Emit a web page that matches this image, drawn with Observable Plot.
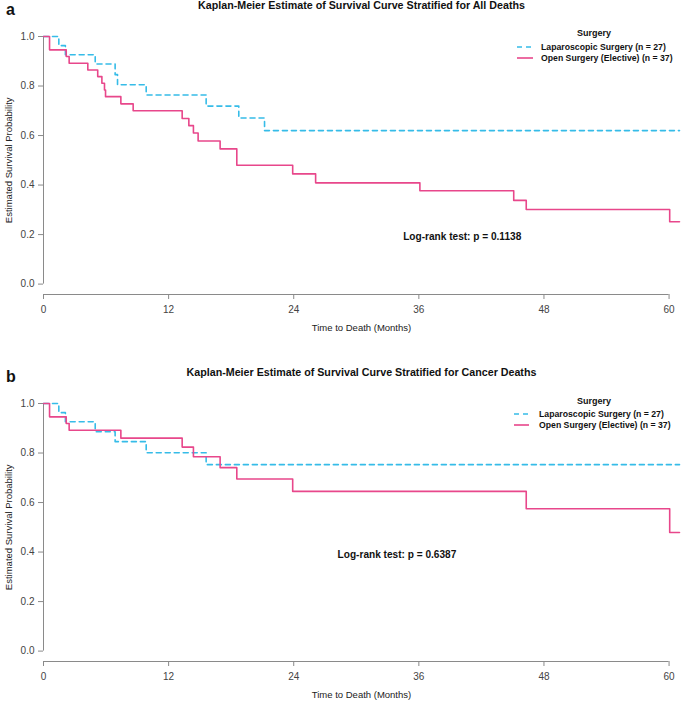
<!DOCTYPE html>
<html><head><meta charset="utf-8">
<script src="https://cdn.jsdelivr.net/npm/d3@7"></script>
<script src="https://cdn.jsdelivr.net/npm/@observablehq/plot@0.6"></script>
<style>
body{margin:0;background:#fff;font-family:"Liberation Sans",Arial,sans-serif;color:#111;}
.panel{position:relative;width:685px;}
.letter{position:absolute;font-weight:bold;font-size:16px;line-height:16px;}
.title{position:absolute;left:43px;width:637px;text-align:center;font-weight:bold;font-size:10.7px;line-height:12px;}
.lgtitle{position:absolute;font-weight:bold;font-size:9px;line-height:10px;width:120px;text-align:center;}
.lgitem{position:absolute;font-weight:bold;font-size:8.7px;line-height:10px;white-space:nowrap;}
.lgline{position:absolute;}
</style></head>
<body>
<div id="root"></div>
<script>
// ---- data ----
const groups = ["Laparoscopic Surgery (n = 27)", "Open Surgery (Elective) (n = 37)"];
const groupColors = ["#36BCE8", "#E8478B"];
const xTicks = [0, 12, 24, 36, 48, 60];
const yTicks = [0, 0.2, 0.4, 0.6, 0.8, 1.0];

// Panel a: all deaths
const allLapTime = [0, 1.47, 2.1, 4.96, 6.87, 7.1, 9.85, 15.6, 18.73, 21.2, 61];
const allLapSurv = [1, 0.963, 0.926, 0.889, 0.846, 0.805, 0.764, 0.719, 0.671, 0.620, 0.620];
const allOpenTime = [0, 0.58, 2.18, 2.46, 4.25, 5.2, 5.6, 5.85, 5.95, 7.42, 8.6, 13.3, 13.94, 14.38, 14.83, 16.94, 18.54, 23.9, 26.1, 36.1, 45.1, 46.3, 60.06, 61];
const allOpenSurv = [1, 0.946, 0.919, 0.892, 0.865, 0.838, 0.811, 0.784, 0.757, 0.728, 0.700, 0.669, 0.640, 0.610, 0.578, 0.546, 0.480, 0.445, 0.409, 0.377, 0.338, 0.301, 0.252, 0.252];

// Panel b: cancer deaths
const canLapTime = [0, 1.47, 2.1, 4.96, 6.87, 9.85, 15.6, 61];
const canLapSurv = [1, 0.963, 0.926, 0.886, 0.846, 0.801, 0.753, 0.753];
const canOpenTime = [0, 0.58, 2.18, 2.46, 7.42, 13.3, 14.38, 16.94, 18.54, 23.9, 46.3, 60.06, 61];
const canOpenSurv = [1, 0.946, 0.919, 0.892, 0.860, 0.824, 0.785, 0.741, 0.695, 0.645, 0.575, 0.479, 0.479];

const panelLetters = ["a", "b"];
const panelTitles = ["Kaplan-Meier Estimate of Survival Curve Stratified for All Deaths",
                     "Kaplan-Meier Estimate of Survival Curve Stratified for Cancer Deaths"];
const logRankTexts = ["Log-rank test: p = 0.1138", "Log-rank test: p = 0.6387"];
const logRankX = [40.16, 33.9];
const logRankY = [0.193, 0.39];
const xLabel = "Time to Death (Months)";
const yLabel = "Estimated Survival Probability";
const legendTitle = "Surgery";

// ---- build ----
const font = '"Liberation Sans", Arial, sans-serif';
const axisGray = "#8a8a8a";
const yFloor = -0.042;

function rows(t, s) { return t.map((d, i) => ({time: d, surv: s[i]})); }

function panel(i, lapT, lapS, openT, openS, H, lg) {
  const wrap = document.createElement("div");
  wrap.className = "panel";
  wrap.style.height = H + "px";
  const chart = Plot.plot({
    width: 685, height: H,
    marginTop: 36, marginLeft: 43, marginRight: 6, marginBottom: H - 294,
    x: {domain: [0, 61], axis: null},
    y: {domain: [yFloor, 1], axis: null},
    style: {fontFamily: font, fontSize: "10px", background: "transparent", color: "#333"},
    marks: [
      Plot.ruleX([0], {y1: 0, y2: 1, stroke: axisGray}),
      Plot.ruleY([yFloor], {x1: 0, x2: 60, stroke: axisGray}),
      Plot.axisY({ticks: yTicks, tickSize: 5, tickPadding: 4, tickFormat: d3.format(".1f"), stroke: axisGray, fill: "#444", label: null}),
      Plot.axisX({ticks: xTicks, tickSize: 5, tickPadding: 6, tickFormat: d => String(d), stroke: axisGray, fill: "#444", label: null}),
      Plot.line(rows(lapT, lapS), {x: "time", y: "surv", curve: "step-after", stroke: groupColors[0], strokeWidth: 1.6, strokeDasharray: "5,4"}),
      Plot.line(rows(openT, openS), {x: "time", y: "surv", curve: "step-after", stroke: groupColors[1], strokeWidth: 1.6}),
      Plot.text([logRankTexts[i]], {x: logRankX[i], y: logRankY[i], text: d => d, fontWeight: "bold", fontSize: 10.1, fill: "#111"}),
      Plot.text([xLabel], {frameAnchor: "bottom", text: d => d, dy: 36.7, fontSize: 9.5, fill: "#222"}),
      Plot.text([yLabel], {x: 0, y: 0.5, text: d => d, rotate: -90, dx: -35, fontSize: 9.5, fill: "#222"})
    ]
  });
  chart.style.position = "absolute";
  chart.style.left = "0px";
  chart.style.top = "0px";
  wrap.appendChild(chart);

  const letter = document.createElement("div");
  letter.className = "letter"; letter.textContent = panelLetters[i];
  letter.style.left = "6px"; letter.style.top = "2px";
  wrap.appendChild(letter);

  const title = document.createElement("div");
  title.className = "title"; title.textContent = panelTitles[i];
  title.style.top = "-1px";
  wrap.appendChild(title);

  const lt = document.createElement("div");
  lt.className = "lgtitle"; lt.textContent = legendTitle;
  lt.style.left = (594 - 60) + "px"; lt.style.top = (lg.ty - 5) + "px";
  wrap.appendChild(lt);

  groups.forEach((g, k) => {
    const yy = lg.iy[k];
    const svgNS = "http://www.w3.org/2000/svg";
    const s = document.createElementNS(svgNS, "svg");
    s.setAttribute("width", lg.lw); s.setAttribute("height", 4);
    s.setAttribute("class", "lgline");
    s.style.left = lg.lx + "px"; s.style.top = (yy - 2) + "px";
    const ln = document.createElementNS(svgNS, "line");
    ln.setAttribute("x1", 0); ln.setAttribute("x2", lg.lw); ln.setAttribute("y1", 2); ln.setAttribute("y2", 2);
    ln.setAttribute("stroke", groupColors[k]); ln.setAttribute("stroke-width", 1.6);
    if (k === 0) ln.setAttribute("stroke-dasharray", "5,4");
    s.appendChild(ln);
    wrap.appendChild(s);
    const t = document.createElement("div");
    t.className = "lgitem"; t.textContent = g;
    t.style.left = lg.tx + "px"; t.style.top = (yy - 5) + "px";
    wrap.appendChild(t);
  });
  return wrap;
}

const root = document.getElementById("root");
root.appendChild(panel(0, allLapTime, allLapSurv, allOpenTime, allOpenSurv, 367, {ty: 33, iy: [46.7, 57.7], lx: 517, lw: 16, tx: 541}));
root.appendChild(panel(1, canLapTime, canLapSurv, canOpenTime, canOpenSurv, 340, {ty: 34.4, iy: [47, 57.7], lx: 514, lw: 15, tx: 539}));
</script>
</body></html>
